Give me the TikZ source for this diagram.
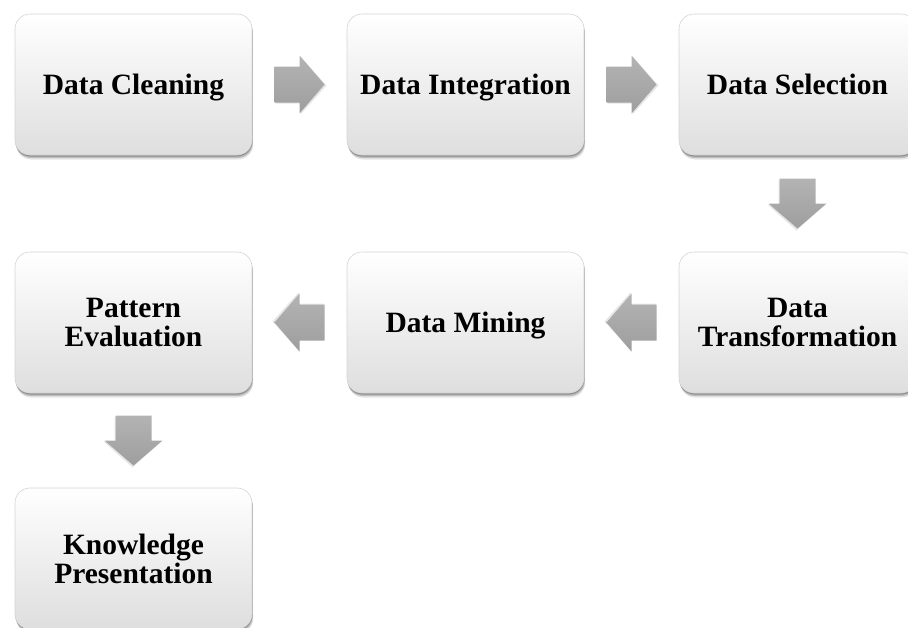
\documentclass[tikz,border=0pt]{standalone}
\usepackage{fontspec}
\setmainfont{Liberation Serif}
\usetikzlibrary{shadows,calc}

\definecolor{boxborder}{RGB}{212,212,212}
\definecolor{boxbottom}{RGB}{222,222,222}
\definecolor{arrowgrey}{RGB}{166,166,166}

\tikzset{
  stagebox/.style={
    rectangle, rounded corners=15pt,
    minimum width=237pt, minimum height=141pt,
    draw=boxborder, line width=0.6pt,
    top color=white, middle color=white!98!black, bottom color=boxbottom,
    align=center, text=black,
    font=\bfseries\fontsize{29.5}{29}\selectfont,
    drop shadow={shadow xshift=0.3pt, shadow yshift=-1.5pt, opacity=0.25, fill=black},
    drop shadow={shadow xshift=0.8pt, shadow yshift=-3pt, opacity=0.18, fill=black},
    drop shadow={shadow xshift=1.2pt, shadow yshift=-4.5pt, opacity=0.10, fill=black}
  },
  % single-line labels: fixed box so the capitals sit on the centre line
  oneline/.style={text height=22pt, text depth=2.5pt},
  blockarrow/.pic={
    \fill[black, opacity=0.10] (-24,-17) -- (1,-17) -- (1,-28) -- (27,1) -- (1,30) -- (1,19) -- (-24,19) -- cycle;
    \shade[top color=arrowgrey!85!white, bottom color=arrowgrey!95!black]
      (-25,-18) -- (0,-18) -- (0,-29) -- (25,0) -- (0,29) -- (0,18) -- (-25,18) -- cycle;
  }
}

\begin{document}
\begin{tikzpicture}[x=1pt, y=-1pt]
  \useasboundingbox (0,0) rectangle (908,627);
  \clip (0,0) rectangle (908,627);

  % three columns, three rows of stages
  \node[stagebox, oneline] (clean)  at (133.5, 84.5)  {Data Cleaning};
  \node[stagebox, oneline] (integ)  at (465.5, 84.5)  {Data Integration};
  \node[stagebox, oneline] (select) at (797.5, 84.5)  {Data Selection};
  \node[stagebox] (trans)  at (797.5, 322.5) {Data\\Transformation};
  \node[stagebox, oneline] (mining) at (465.5, 322.5) {Data Mining};
  \node[stagebox] (pattern) at (133.5, 322.5) {Pattern\\Evaluation};
  \node[stagebox] (know)   at (133.5, 558.5) {Knowledge\\Presentation};

  % block arrows half-way between consecutive stages
  \pic at ($(clean.east)!0.5!(integ.west)$) {blockarrow};
  \pic at ($(integ.east)!0.5!(select.west)$) {blockarrow};
  \pic[rotate=-90] at ($(select.south)!0.5!(trans.north)$) {blockarrow};
  \pic[rotate=180] at ($(trans.west)!0.5!(mining.east)$) {blockarrow};
  \pic[rotate=180] at ($(mining.west)!0.5!(pattern.east)$) {blockarrow};
  \pic[rotate=-90] at ($(pattern.south)!0.5!(know.north)$) {blockarrow};
\end{tikzpicture}
\end{document}
